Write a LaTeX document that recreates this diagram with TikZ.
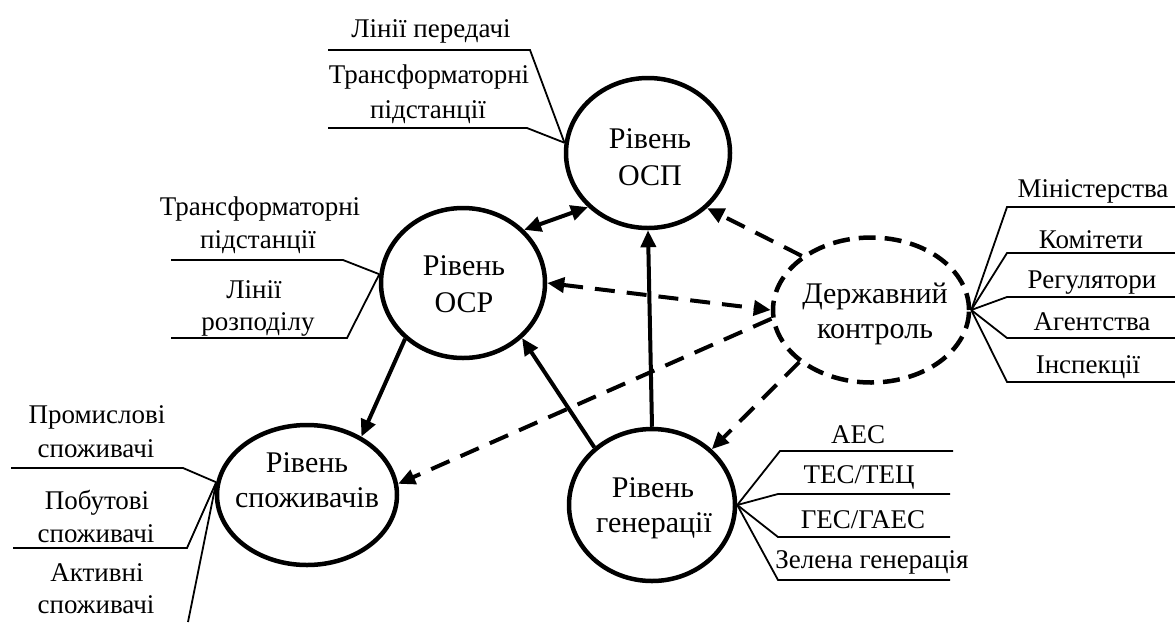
\documentclass[tikz,border=0pt]{standalone}
\usepackage{fontspec}
\setmainfont{LiberationSerif}[Extension=.ttf, UprightFont=*-Regular, BoldFont=*-Bold, ItalicFont=*-Italic, BoldItalicFont=*-BoldItalic]
\usetikzlibrary{shapes.geometric,arrows.meta}
\begin{document}
\begin{tikzpicture}[x=1pt,y=-1pt,
 lvl/.style={draw, ellipse, line width=4.5pt, inner sep=0pt},
 ctext/.style={anchor=base, inner sep=0pt, font=\rmfamily\fontsize{30}{36}\selectfont},
 btext/.style={anchor=base, inner sep=0pt, font=\rmfamily\fontsize{27}{33}\selectfont},
 branch/.style={line width=1.8pt, line join=miter},
 conn/.style={line width=4pt, -{Triangle[length=17pt,width=15pt]}},
 conntwo/.style={line width=4pt, {Triangle[length=17pt,width=15pt]}-{Triangle[length=17pt,width=15pt]}},
 dconn/.style={conn, dash pattern=on 20pt off 12pt},
 dconntwo/.style={conntwo, dash pattern=on 20pt off 12pt}]
\useasboundingbox (0,0) rectangle (1175,622);
% level ellipses
\node[lvl, minimum width=164pt, minimum height=150pt] (osp) at (648,153) {};
\node[lvl, minimum width=164pt, minimum height=150pt] (osr) at (463,283) {};
\node[lvl, minimum width=180pt, minimum height=140pt] (spo) at (307,495) {};
\node[lvl, minimum width=166pt, minimum height=152pt] (gen) at (652,505) {};
\node[lvl, dash pattern=on 17pt off 9pt, minimum width=196pt, minimum height=145pt] (derzh) at (871,310) {};
% texts in ellipses
\node[ctext] (osp1) at (650,148) {Рівень};
\node[ctext] (osp2) at (650,185) {ОСП};
\node[ctext] (osr1) at (464,275) {Рівень};
\node[ctext] (osr2) at (464,312) {ОСР};
\node[ctext] (spo1) at (307,472) {Рівень};
\node[ctext] (spo2) at (307,507) {споживачів};
\node[ctext] (gen1) at (653,497) {Рівень};
\node[ctext] (gen2) at (654,532) {генерації};
\node[ctext] (der1) at (875,303) {Державний};
\node[ctext] (der2) at (875,338) {контроль};
% OSP branches
\node[btext] (b1) at (431,37) {Лінії передачі};
\node[btext] (b2) at (429,83) {Трансформаторні};
\node[btext] (b3) at (428,118) {підстанції};
\coordinate (c1a) at (328,50); \coordinate (c1b) at (530,50);
\coordinate (c2a) at (328,128); \coordinate (c2b) at (527,128);
\draw[branch] (c1a) -- (c1b) -- (osp.173);
\draw[branch] (c2a) -- (c2b) -- (osp.173);
% OSR branches
\node[btext] (b4) at (260,215) {Трансформаторні};
\node[btext] (b5) at (258,248) {підстанції};
\node[btext] (b6) at (254,298) {Лінії};
\node[btext] (b7) at (258,330) {розподілу};
\coordinate (c3a) at (171,260); \coordinate (c3b) at (343,260);
\coordinate (c4a) at (171,338); \coordinate (c4b) at (347,338);
\draw[branch] (c3a) -- (c3b) -- (osr.174);
\draw[branch] (c4a) -- (c4b) -- (osr.174);
% consumer branches
\node[btext] (b8) at (97,423) {Промислові};
\node[btext] (b9) at (96,457) {споживачі};
\node[btext] (b10) at (97,509) {Побутові};
\node[btext] (b11) at (96,542) {споживачі};
\node[btext] (b12) at (97,581) {Активні};
\node[btext] (b13) at (96,613) {споживачі};
\coordinate (c5a) at (11,468); \coordinate (c5b) at (183,468);
\coordinate (c6a) at (13,548); \coordinate (c6b) at (187,548);
\coordinate (c7) at (188,622);
\draw[branch] (c5a) -- (c5b) -- (spo.172);
\draw[branch] (c6a) -- (c6b) -- (spo.172);
\draw[branch] (spo.172) -- (c7);
% generation branches
\node[btext] (b14) at (858,443) {АЕС};
\node[btext] (b15) at (859,483) {ТЕС/ТЕЦ};
\node[btext] (b16) at (863,528) {ГЕС/ГАЕС};
\node[btext] (b17) at (872,568) {Зелена генерація};
\coordinate (g1a) at (780,451); \coordinate (g1b) at (953,451);
\coordinate (g2a) at (778,494); \coordinate (g2b) at (950,494);
\coordinate (g3a) at (778,537); \coordinate (g3b) at (950,537);
\coordinate (g4a) at (778,580); \coordinate (g4b) at (950,580);
\draw[branch] (gen.east) -- (g1a) -- (g1b);
\draw[branch] (gen.east) -- (g2a) -- (g2b);
\draw[branch] (gen.east) -- (g3a) -- (g3b);
\draw[branch] (gen.east) -- (g4a) -- (g4b);
% state control branches
\node[btext] (b18) at (1093,197) {Міністерства};
\node[btext] (b19) at (1091,248) {Комітети};
\node[btext] (b20) at (1092,288) {Регулятори};
\node[btext] (b21) at (1092,330) {Агентства};
\node[btext] (b22) at (1088,373) {Інспекції};
\coordinate (d1a) at (1007,207); \coordinate (d1b) at (1175,207);
\coordinate (d2a) at (1007,253); \coordinate (d2b) at (1175,253);
\coordinate (d3a) at (1007,297); \coordinate (d3b) at (1175,297);
\coordinate (d4a) at (1007,338); \coordinate (d4b) at (1175,338);
\coordinate (d5a) at (1007,382); \coordinate (d5b) at (1175,382);
\draw[branch] (derzh.east) -- (d1a) -- (d1b);
\draw[branch] (derzh.east) -- (d2a) -- (d2b);
\draw[branch] (derzh.east) -- (d3a) -- (d3b);
\draw[branch] (derzh.east) -- (d4a) -- (d4b);
\draw[branch] (derzh.east) -- (d5a) -- (d5b);
% connectors
\draw[conntwo] (osr.41) -- (osp.222);
\draw[conn] (gen.north) -- (osp.south);
\draw[conn] (gen.135) -- (osr.317);
\draw[conn] (osr.224) -- (spo.47);
\draw[dconn] (derzh.142) -- (osp.317);
\draw[dconntwo] (osr.east) -- (derzh.west);
\draw[dconn] (derzh.185) -- (spo.7);
\draw[dconn] (derzh.216) -- (gen.43);
\end{tikzpicture}
\end{document}
